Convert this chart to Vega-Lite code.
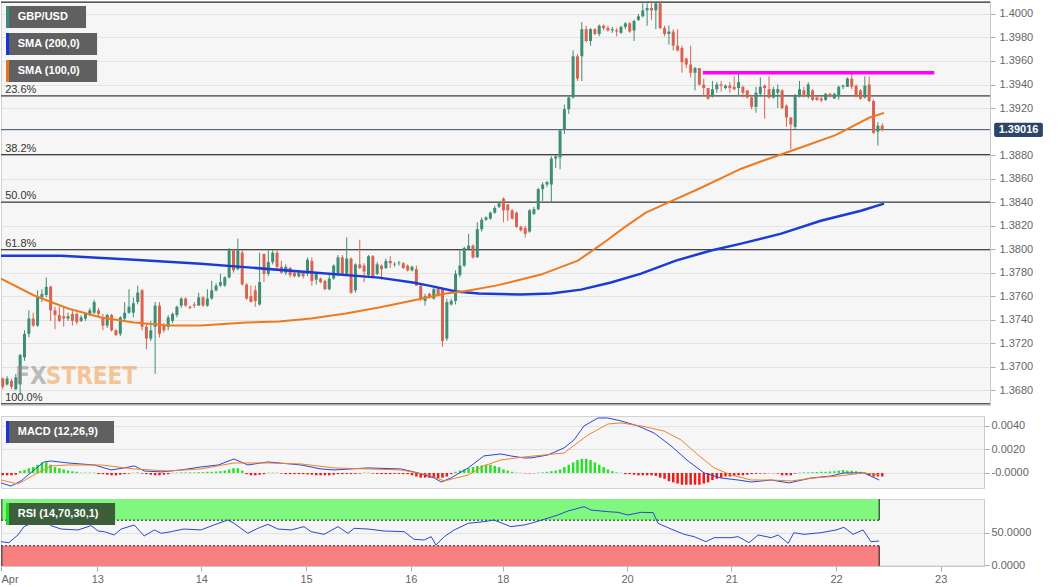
{
"$schema":"https://vega.github.io/schema/vega-lite/v6.json",
"padding":0,
"background":"#ffffff",
"spacing":9,
"config":{
 "view":{"fill":"#f6f6f6","stroke":"#d2d2d2"},
 "axis":{"labelFont":"Liberation Sans","labelFontSize":11,"labelColor":"#666666","tickColor":"#aaaaaa","domainColor":"#c6c9d2","gridColor":"#e3e3e3","tickSize":5,"labelOverlap":false,"tickCount":40},
 "scale":{"continuousPadding":0},
 "text":{"font":"Liberation Sans"}
},
"datasets":{
"candles":[
{"t":0,"o":1.3690,"h":1.3691,"l":1.3681,"c":1.3683,"m":-0.0002},
{"t":1,"o":1.3685,"h":1.3692,"l":1.3684,"c":1.3690,"m":-0.0002},
{"t":2,"o":1.3688,"h":1.3690,"l":1.3681,"c":1.3683,"m":-0.0002},
{"t":3,"o":1.3681,"h":1.3694,"l":1.3680,"c":1.3691,"m":-0.00015},
{"t":4,"o":1.3685,"h":1.3711,"l":1.3676,"c":1.3710,"m":0.00017},
{"t":5,"o":1.3708,"h":1.3731,"l":1.3705,"c":1.3728,"m":0.00026},
{"t":6,"o":1.3728,"h":1.3748,"l":1.3725,"c":1.3741,"m":0.0004},
{"t":7,"o":1.3741,"h":1.3746,"l":1.3734,"c":1.3735,"m":0.0005},
{"t":8,"o":1.3735,"h":1.3765,"l":1.3734,"c":1.3760,"m":0.0007},
{"t":9,"o":1.3759,"h":1.3766,"l":1.3755,"c":1.3762,"m":0.0009},
{"t":10,"o":1.3761,"h":1.3776,"l":1.3759,"c":1.3768,"m":0.0009},
{"t":11,"o":1.3768,"h":1.3769,"l":1.3739,"c":1.3748,"m":0.0007},
{"t":12,"o":1.3748,"h":1.3751,"l":1.3732,"c":1.3744,"m":0.0005},
{"t":13,"o":1.3744,"h":1.3751,"l":1.3738,"c":1.3739,"m":0.0004},
{"t":14,"o":1.3743,"h":1.3751,"l":1.3734,"c":1.3741,"m":0.0003},
{"t":15,"o":1.3741,"h":1.3746,"l":1.3739,"c":1.3743,"m":0.0002},
{"t":16,"o":1.3745,"h":1.3748,"l":1.3735,"c":1.3739,"m":0.00014},
{"t":17,"o":1.3745,"h":1.3746,"l":1.3736,"c":1.3738,"m":0.0001},
{"t":18,"o":1.3739,"h":1.3744,"l":1.3738,"c":1.3742,"m":0.00003},
{"t":19,"o":1.3741,"h":1.3746,"l":1.3739,"c":1.3745,"m":0.00003},
{"t":20,"o":1.3744,"h":1.3750,"l":1.3743,"c":1.3748,"m":0.00003},
{"t":21,"o":1.3746,"h":1.3757,"l":1.3745,"c":1.3755,"m":0.00003},
{"t":22,"o":1.3748,"h":1.3750,"l":1.3743,"c":1.3745,"m":-0.0001},
{"t":23,"o":1.3742,"h":1.3745,"l":1.3731,"c":1.3735,"m":-0.0001},
{"t":24,"o":1.3735,"h":1.3745,"l":1.3733,"c":1.3744,"m":-0.00015},
{"t":25,"o":1.3744,"h":1.3745,"l":1.3730,"c":1.3731,"m":-0.0002},
{"t":26,"o":1.3731,"h":1.3732,"l":1.3726,"c":1.3727,"m":-0.0002},
{"t":27,"o":1.3728,"h":1.3743,"l":1.3726,"c":1.3742,"m":-0.00015},
{"t":28,"o":1.3741,"h":1.3755,"l":1.3739,"c":1.3746,"m":-0.0001},
{"t":29,"o":1.3746,"h":1.3766,"l":1.3745,"c":1.3751,"m":-0.00005},
{"t":30,"o":1.3746,"h":1.3759,"l":1.3742,"c":1.3754,"m":0.00002},
{"t":31,"o":1.3755,"h":1.3769,"l":1.3753,"c":1.3763,"m":0.00005},
{"t":32,"o":1.3765,"h":1.3766,"l":1.3731,"c":1.3734,"m":-0.00005},
{"t":33,"o":1.3734,"h":1.3737,"l":1.3715,"c":1.3724,"m":-0.0001},
{"t":34,"o":1.3724,"h":1.3739,"l":1.3722,"c":1.3731,"m":-0.00015},
{"t":35,"o":1.3734,"h":1.3755,"l":1.3694,"c":1.3752,"m":-0.0002},
{"t":36,"o":1.3752,"h":1.3755,"l":1.3725,"c":1.3728,"m":-0.0002},
{"t":37,"o":1.3735,"h":1.3737,"l":1.3729,"c":1.3731,"m":-0.00015},
{"t":38,"o":1.3734,"h":1.3744,"l":1.3731,"c":1.3742,"m":-0.0001},
{"t":39,"o":1.3739,"h":1.3746,"l":1.3737,"c":1.3745,"m":0.00002},
{"t":40,"o":1.3744,"h":1.3752,"l":1.3742,"c":1.3751,"m":0.00003},
{"t":41,"o":1.3752,"h":1.3759,"l":1.3750,"c":1.3758,"m":0.00005},
{"t":42,"o":1.3758,"h":1.3759,"l":1.3751,"c":1.3752,"m":0.00005},
{"t":43,"o":1.3751,"h":1.3752,"l":1.3749,"c":1.3750,"m":0.00005},
{"t":44,"o":1.3753,"h":1.3755,"l":1.3750,"c":1.3752,"m":0.00005},
{"t":45,"o":1.3752,"h":1.3763,"l":1.3752,"c":1.3759,"m":0.00007},
{"t":46,"o":1.3759,"h":1.3760,"l":1.3751,"c":1.3752,"m":0.00007},
{"t":47,"o":1.3752,"h":1.3766,"l":1.3751,"c":1.3758,"m":0.0001},
{"t":48,"o":1.3758,"h":1.3773,"l":1.3757,"c":1.3765,"m":0.0001},
{"t":49,"o":1.3765,"h":1.3771,"l":1.3764,"c":1.3769,"m":0.00012},
{"t":50,"o":1.3769,"h":1.3779,"l":1.3768,"c":1.3772,"m":0.00015},
{"t":51,"o":1.3769,"h":1.3777,"l":1.3768,"c":1.3776,"m":0.0002},
{"t":52,"o":1.3776,"h":1.3801,"l":1.3775,"c":1.3800,"m":0.0003},
{"t":53,"o":1.3799,"h":1.3800,"l":1.3780,"c":1.3782,"m":0.0004},
{"t":54,"o":1.3783,"h":1.3809,"l":1.3782,"c":1.3799,"m":0.0004},
{"t":55,"o":1.3797,"h":1.3799,"l":1.3769,"c":1.3770,"m":0.0002},
{"t":56,"o":1.3770,"h":1.3771,"l":1.3757,"c":1.3758,"m":-0.0001},
{"t":57,"o":1.3760,"h":1.3769,"l":1.3755,"c":1.3755,"m":-0.0002},
{"t":58,"o":1.3765,"h":1.3769,"l":1.3751,"c":1.3756,"m":-0.0002},
{"t":59,"o":1.3753,"h":1.3797,"l":1.3752,"c":1.3772,"m":-0.00015},
{"t":60,"o":1.3796,"h":1.3796,"l":1.3772,"c":1.3779,"m":-0.0001},
{"t":61,"o":1.3779,"h":1.3799,"l":1.3777,"c":1.3789,"m":0.00003},
{"t":62,"o":1.3789,"h":1.3799,"l":1.3787,"c":1.3797,"m":0.00003},
{"t":63,"o":1.3797,"h":1.3799,"l":1.3783,"c":1.3785,"m":0.00003},
{"t":64,"o":1.3785,"h":1.3790,"l":1.3779,"c":1.3780,"m":-0.00005},
{"t":65,"o":1.3780,"h":1.3787,"l":1.3778,"c":1.3785,"m":-0.0001},
{"t":66,"o":1.3784,"h":1.3785,"l":1.3776,"c":1.3778,"m":-0.0001},
{"t":67,"o":1.3780,"h":1.3782,"l":1.3776,"c":1.3777,"m":-0.0001},
{"t":68,"o":1.3777,"h":1.3782,"l":1.3776,"c":1.3780,"m":-0.0001},
{"t":69,"o":1.3780,"h":1.3781,"l":1.3775,"c":1.3777,"m":-0.0001},
{"t":70,"o":1.3779,"h":1.3793,"l":1.3777,"c":1.3791,"m":-0.00012},
{"t":71,"o":1.3790,"h":1.3793,"l":1.3769,"c":1.3773,"m":-0.00015},
{"t":72,"o":1.3774,"h":1.3780,"l":1.3770,"c":1.3779,"m":-0.0002},
{"t":73,"o":1.3775,"h":1.3776,"l":1.3771,"c":1.3772,"m":-0.0002},
{"t":74,"o":1.3773,"h":1.3774,"l":1.3765,"c":1.3766,"m":-0.0002},
{"t":75,"o":1.3766,"h":1.3780,"l":1.3765,"c":1.3775,"m":-0.0002},
{"t":76,"o":1.3775,"h":1.3787,"l":1.3774,"c":1.3786,"m":-0.00015},
{"t":77,"o":1.3779,"h":1.3795,"l":1.3777,"c":1.3793,"m":-0.0001},
{"t":78,"o":1.3793,"h":1.3795,"l":1.3778,"c":1.3779,"m":-0.0001},
{"t":79,"o":1.3779,"h":1.3810,"l":1.3777,"c":1.3792,"m":-0.00008},
{"t":80,"o":1.3792,"h":1.3793,"l":1.3762,"c":1.3763,"m":-0.0001},
{"t":81,"o":1.3765,"h":1.3788,"l":1.3763,"c":1.3787,"m":-0.00008},
{"t":82,"o":1.3787,"h":1.3808,"l":1.3783,"c":1.3784,"m":-0.00005},
{"t":83,"o":1.3786,"h":1.3788,"l":1.3772,"c":1.3781,"m":0.00003},
{"t":84,"o":1.3778,"h":1.3795,"l":1.3776,"c":1.3794,"m":0.00003},
{"t":85,"o":1.3794,"h":1.3795,"l":1.3775,"c":1.3776,"m":-0.00005},
{"t":86,"o":1.3779,"h":1.3789,"l":1.3778,"c":1.3787,"m":-0.00008},
{"t":87,"o":1.3786,"h":1.3787,"l":1.3774,"c":1.3783,"m":-0.0001},
{"t":88,"o":1.3784,"h":1.3792,"l":1.3783,"c":1.3790,"m":-0.0001},
{"t":89,"o":1.3790,"h":1.3794,"l":1.3784,"c":1.3788,"m":-0.0001},
{"t":90,"o":1.3787,"h":1.3789,"l":1.3785,"c":1.37875,"m":-0.00008},
{"t":91,"o":1.3788,"h":1.3790,"l":1.3786,"c":1.37885,"m":-0.00008},
{"t":92,"o":1.3788,"h":1.3789,"l":1.3783,"c":1.3784,"m":-0.0001},
{"t":93,"o":1.3786,"h":1.3787,"l":1.3781,"c":1.3782,"m":-0.0001},
{"t":94,"o":1.3782,"h":1.3786,"l":1.3781,"c":1.3785,"m":-0.0002},
{"t":95,"o":1.3783,"h":1.3786,"l":1.3769,"c":1.3769,"m":-0.0003},
{"t":96,"o":1.3769,"h":1.3769,"l":1.3756,"c":1.3758,"m":-0.0004},
{"t":97,"o":1.3756,"h":1.3762,"l":1.3752,"c":1.3760,"m":-0.0004},
{"t":98,"o":1.3762,"h":1.3763,"l":1.3758,"c":1.3759,"m":-0.0004},
{"t":99,"o":1.3758,"h":1.3767,"l":1.3757,"c":1.3766,"m":-0.0004},
{"t":100,"o":1.3766,"h":1.3768,"l":1.3760,"c":1.3761,"m":-0.00045},
{"t":101,"o":1.3766,"h":1.3767,"l":1.3717,"c":1.3722,"m":-0.0004},
{"t":102,"o":1.3724,"h":1.3758,"l":1.3722,"c":1.3755,"m":-0.0003},
{"t":103,"o":1.3753,"h":1.3758,"l":1.3752,"c":1.3756,"m":-0.0001},
{"t":104,"o":1.3756,"h":1.3782,"l":1.3753,"c":1.3779,"m":0.0001},
{"t":105,"o":1.3778,"h":1.3799,"l":1.3776,"c":1.3786,"m":0.0002},
{"t":106,"o":1.3786,"h":1.3802,"l":1.3785,"c":1.3801,"m":0.0003},
{"t":107,"o":1.3800,"h":1.3813,"l":1.3799,"c":1.3803,"m":0.0004},
{"t":108,"o":1.3803,"h":1.3804,"l":1.3792,"c":1.3793,"m":0.0005},
{"t":109,"o":1.3793,"h":1.3823,"l":1.3793,"c":1.3817,"m":0.0006},
{"t":110,"o":1.3817,"h":1.3827,"l":1.3815,"c":1.3825,"m":0.00065},
{"t":111,"o":1.3825,"h":1.3828,"l":1.3824,"c":1.3827,"m":0.0007},
{"t":112,"o":1.3826,"h":1.3832,"l":1.3825,"c":1.3831,"m":0.0007},
{"t":113,"o":1.3831,"h":1.3837,"l":1.3830,"c":1.3835,"m":0.0006},
{"t":114,"o":1.3836,"h":1.3840,"l":1.3835,"c":1.3839,"m":0.0005},
{"t":115,"o":1.3843,"h":1.3844,"l":1.3823,"c":1.3833,"m":0.0003},
{"t":116,"o":1.3838,"h":1.3838,"l":1.3824,"c":1.3833,"m":0.0002},
{"t":117,"o":1.3833,"h":1.3834,"l":1.3825,"c":1.3826,"m":0.0001},
{"t":118,"o":1.3831,"h":1.3832,"l":1.3818,"c":1.3819,"m":0.00003},
{"t":119,"o":1.3819,"h":1.3820,"l":1.3815,"c":1.3816,"m":0.00002},
{"t":120,"o":1.3818,"h":1.3820,"l":1.3810,"c":1.3813,"m":-0.00003},
{"t":121,"o":1.3815,"h":1.3834,"l":1.3814,"c":1.3833,"m":-0.00003},
{"t":122,"o":1.3830,"h":1.3836,"l":1.3829,"c":1.3834,"m":-0.00002},
{"t":123,"o":1.3834,"h":1.3852,"l":1.3833,"c":1.3851,"m":0.00003},
{"t":124,"o":1.3851,"h":1.3857,"l":1.3841,"c":1.3855,"m":0.00005},
{"t":125,"o":1.3855,"h":1.3858,"l":1.3853,"c":1.3857,"m":0.0001},
{"t":126,"o":1.3855,"h":1.3879,"l":1.3840,"c":1.3877,"m":0.00015},
{"t":127,"o":1.3877,"h":1.3880,"l":1.3869,"c":1.3879,"m":0.0002},
{"t":128,"o":1.3878,"h":1.3902,"l":1.3868,"c":1.3901,"m":0.0003},
{"t":129,"o":1.3902,"h":1.3923,"l":1.3898,"c":1.3919,"m":0.0005},
{"t":130,"o":1.3919,"h":1.3930,"l":1.3915,"c":1.3929,"m":0.0007},
{"t":131,"o":1.3929,"h":1.3969,"l":1.3928,"c":1.3964,"m":0.0009},
{"t":132,"o":1.3964,"h":1.3966,"l":1.3943,"c":1.3945,"m":0.0011},
{"t":133,"o":1.3964,"h":1.3993,"l":1.3943,"c":1.3987,"m":0.0012},
{"t":134,"o":1.3987,"h":1.3990,"l":1.3976,"c":1.3977,"m":0.0012},
{"t":135,"o":1.3977,"h":1.3988,"l":1.3973,"c":1.3987,"m":0.0011},
{"t":136,"o":1.3987,"h":1.3988,"l":1.3982,"c":1.3983,"m":0.0009},
{"t":137,"o":1.3983,"h":1.3991,"l":1.3981,"c":1.3990,"m":0.0007},
{"t":138,"o":1.3990,"h":1.3991,"l":1.3986,"c":1.3988,"m":0.0005},
{"t":139,"o":1.3988,"h":1.3990,"l":1.3985,"c":1.3986,"m":0.0003},
{"t":140,"o":1.3986,"h":1.3989,"l":1.3984,"c":1.3987,"m":0.00015},
{"t":141,"o":1.3986,"h":1.3988,"l":1.3981,"c":1.3985,"m":0.00005},
{"t":142,"o":1.3984,"h":1.3990,"l":1.3983,"c":1.3989,"m":0.00002},
{"t":143,"o":1.3989,"h":1.3993,"l":1.3987,"c":1.3992,"m":-0.0001},
{"t":144,"o":1.3992,"h":1.3993,"l":1.3984,"c":1.3985,"m":-0.0001},
{"t":145,"o":1.3986,"h":1.3995,"l":1.3977,"c":1.3994,"m":-0.00015},
{"t":146,"o":1.3995,"h":1.4000,"l":1.3994,"c":1.3998,"m":-0.0002},
{"t":147,"o":1.3998,"h":1.4009,"l":1.3997,"c":1.4003,"m":-0.0002},
{"t":148,"o":1.4003,"h":1.4009,"l":1.3990,"c":1.4005,"m":-0.0002},
{"t":149,"o":1.4005,"h":1.4009,"l":1.3995,"c":1.4003,"m":-0.0002},
{"t":150,"o":1.4003,"h":1.4010,"l":1.3987,"c":1.4009,"m":-0.00025},
{"t":151,"o":1.4009,"h":1.4010,"l":1.3987,"c":1.3988,"m":-0.0004},
{"t":152,"o":1.3988,"h":1.3990,"l":1.3981,"c":1.3983,"m":-0.0005},
{"t":153,"o":1.3983,"h":1.3990,"l":1.3974,"c":1.3985,"m":-0.0007},
{"t":154,"o":1.3985,"h":1.3987,"l":1.3969,"c":1.3973,"m":-0.0008},
{"t":155,"o":1.3973,"h":1.3987,"l":1.3968,"c":1.3969,"m":-0.0009},
{"t":156,"o":1.3971,"h":1.3973,"l":1.3950,"c":1.3959,"m":-0.001},
{"t":157,"o":1.3962,"h":1.3963,"l":1.3954,"c":1.3957,"m":-0.001},
{"t":158,"o":1.3957,"h":1.3973,"l":1.3946,"c":1.3950,"m":-0.001},
{"t":159,"o":1.3950,"h":1.3955,"l":1.3935,"c":1.3954,"m":-0.001},
{"t":160,"o":1.3954,"h":1.3954,"l":1.3939,"c":1.3940,"m":-0.001},
{"t":161,"o":1.3940,"h":1.3945,"l":1.3930,"c":1.3937,"m":-0.0009},
{"t":162,"o":1.3937,"h":1.3937,"l":1.3927,"c":1.3928,"m":-0.0008},
{"t":163,"o":1.3930,"h":1.3943,"l":1.3929,"c":1.3936,"m":-0.0006},
{"t":164,"o":1.3936,"h":1.3942,"l":1.3933,"c":1.3940,"m":-0.0005},
{"t":165,"o":1.3940,"h":1.3943,"l":1.3934,"c":1.3939,"m":-0.0004},
{"t":166,"o":1.3937,"h":1.3940,"l":1.3936,"c":1.3939,"m":-0.0003},
{"t":167,"o":1.3939,"h":1.3942,"l":1.3933,"c":1.3937,"m":-0.0003},
{"t":168,"o":1.3938,"h":1.3947,"l":1.3935,"c":1.3936,"m":-0.00025},
{"t":169,"o":1.3937,"h":1.3949,"l":1.3930,"c":1.3942,"m":-0.0002},
{"t":170,"o":1.3938,"h":1.3939,"l":1.3929,"c":1.3933,"m":-0.0002},
{"t":171,"o":1.3935,"h":1.3935,"l":1.3928,"c":1.3929,"m":-0.00015},
{"t":172,"o":1.3929,"h":1.3930,"l":1.3919,"c":1.3921,"m":-0.0001},
{"t":173,"o":1.3921,"h":1.3938,"l":1.3916,"c":1.3933,"m":-0.00008},
{"t":174,"o":1.3932,"h":1.3946,"l":1.3930,"c":1.3938,"m":-0.00005},
{"t":175,"o":1.3939,"h":1.3940,"l":1.3911,"c":1.3937,"m":-0.00005},
{"t":176,"o":1.3936,"h":1.3947,"l":1.3928,"c":1.3929,"m":-0.00002},
{"t":177,"o":1.3929,"h":1.3938,"l":1.3928,"c":1.3936,"m":-0.00002},
{"t":178,"o":1.3933,"h":1.3940,"l":1.3920,"c":1.3936,"m":-0.00005},
{"t":179,"o":1.3935,"h":1.3936,"l":1.3919,"c":1.3920,"m":-0.0002},
{"t":180,"o":1.3922,"h":1.3923,"l":1.3904,"c":1.3912,"m":-0.0002},
{"t":181,"o":1.3912,"h":1.3912,"l":1.3885,"c":1.3906,"m":-0.0002},
{"t":182,"o":1.3904,"h":1.3932,"l":1.3902,"c":1.3930,"m":-0.00005},
{"t":183,"o":1.3930,"h":1.3943,"l":1.3929,"c":1.3936,"m":0.00003},
{"t":184,"o":1.3935,"h":1.3938,"l":1.3929,"c":1.3930,"m":0.00005},
{"t":185,"o":1.3930,"h":1.3942,"l":1.3928,"c":1.3940,"m":0.00005},
{"t":186,"o":1.3935,"h":1.3936,"l":1.3926,"c":1.3927,"m":0.00007},
{"t":187,"o":1.3929,"h":1.3930,"l":1.3926,"c":1.3927,"m":0.00008},
{"t":188,"o":1.3928,"h":1.3930,"l":1.3925,"c":1.39265,"m":0.0001},
{"t":189,"o":1.3927,"h":1.3933,"l":1.3926,"c":1.3932,"m":0.0001},
{"t":190,"o":1.3932,"h":1.3933,"l":1.3929,"c":1.3930,"m":0.00012},
{"t":191,"o":1.3928,"h":1.3933,"l":1.3928,"c":1.3932,"m":0.00015},
{"t":192,"o":1.3930,"h":1.3939,"l":1.3927,"c":1.3938,"m":0.0002},
{"t":193,"o":1.3938,"h":1.3940,"l":1.3936,"c":1.3939,"m":0.00025},
{"t":194,"o":1.3938,"h":1.3946,"l":1.3938,"c":1.3945,"m":0.0002},
{"t":195,"o":1.3945,"h":1.3949,"l":1.3936,"c":1.3938,"m":0.00018},
{"t":196,"o":1.3939,"h":1.3940,"l":1.3929,"c":1.3930,"m":0.00015},
{"t":197,"o":1.3935,"h":1.3936,"l":1.3927,"c":1.3928,"m":0.0001},
{"t":198,"o":1.3929,"h":1.3947,"l":1.3928,"c":1.3939,"m":0.00005},
{"t":199,"o":1.3940,"h":1.3947,"l":1.3925,"c":1.3926,"m":-0.0002},
{"t":200,"o":1.3926,"h":1.3927,"l":1.3898,"c":1.3899,"m":-0.0003},
{"t":201,"o":1.3900,"h":1.3908,"l":1.3888,"c":1.3905,"m":-0.0003},
{"t":202,"o":1.3905,"h":1.3907,"l":1.3900,"c":1.39016,"m":-0.0003}
],
"sma200":[
{"t":-0.4,"v":1.37945},{"t":13.4,"v":1.37945},{"t":30.2,"v":1.37911},{"t":45.5,"v":1.37877},{"t":57,"v":1.37843},{"t":71.3,"v":1.37801},{"t":86.4,"v":1.37758},{"t":94.2,"v":1.37716},{"t":97.9,"v":1.3769},{"t":104.1,"v":1.3764},{"t":109.4,"v":1.37623},{"t":119,"v":1.37614},{"t":125.9,"v":1.37623},{"t":132.8,"v":1.37656},{"t":139.7,"v":1.37716},{"t":146.6,"v":1.37792},{"t":154.6,"v":1.37903},{"t":162.7,"v":1.37988},{"t":169.6,"v":1.38047},{"t":178.8,"v":1.38132},{"t":187.9,"v":1.38242},{"t":197.1,"v":1.38327},{"t":202.4,"v":1.38387}
],
"sma100":[
{"t":-0.4,"v":1.3775},{"t":7.2,"v":1.37606},{"t":15,"v":1.37495},{"t":22.6,"v":1.37419},{"t":30.2,"v":1.37376},{"t":38,"v":1.37351},{"t":45.5,"v":1.37351},{"t":55.9,"v":1.37376},{"t":63.5,"v":1.37385},{"t":70.8,"v":1.3741},{"t":78.8,"v":1.37453},{"t":86.4,"v":1.37504},{"t":94.2,"v":1.37563},{"t":101.8,"v":1.37623},{"t":105.7,"v":1.3764},{"t":113.3,"v":1.3769},{"t":123.6,"v":1.37784},{"t":132.1,"v":1.37903},{"t":137.4,"v":1.38038},{"t":142.7,"v":1.38183},{"t":147.7,"v":1.3831},{"t":152.8,"v":1.38395},{"t":160.4,"v":1.38522},{"t":169.6,"v":1.38684},{"t":174.6,"v":1.38752},{"t":183.8,"v":1.38871},{"t":191.4,"v":1.38972},{"t":199,"v":1.39117},{"t":202.4,"v":1.39159}
],
"macd":[
{"t":-0.4,"v":-0.00085},{"t":1.9,"v":-0.00111},{"t":4.2,"v":-0.00068},{"t":7.2,"v":0.00026},{"t":9.5,"v":0.00094},{"t":11.1,"v":0.00102},{"t":15,"v":0.00085},{"t":21,"v":0.00068},{"t":24.9,"v":0.00026},{"t":27.9,"v":0.00043},{"t":30.2,"v":0.0006},{"t":32.5,"v":0.00017},{"t":36.4,"v":0.00009},{"t":41,"v":0.00026},{"t":45.5,"v":0.00051},{"t":49.5,"v":0.00068},{"t":53.1,"v":0.00119},{"t":56.3,"v":0.00068},{"t":60.9,"v":0.00094},{"t":68.5,"v":0.00068},{"t":73.1,"v":0.00034},{"t":76.1,"v":0.00026},{"t":80,"v":0.00034},{"t":83.9,"v":0.00043},{"t":91.5,"v":0.00034},{"t":95.4,"v":0},{"t":99.1,"v":-0.00043},{"t":100.7,"v":-0.00077},{"t":102.9,"v":-0.00043},{"t":106.9,"v":0.00043},{"t":110.5,"v":0.00145},{"t":114.4,"v":0.00162},{"t":116.7,"v":0.00145},{"t":119.7,"v":0.00128},{"t":121.3,"v":0.00128},{"t":125.2,"v":0.00153},{"t":128.9,"v":0.00213},{"t":131.2,"v":0.00281},{"t":133.5,"v":0.004},{"t":136.7,"v":0.00468},{"t":139,"v":0.00468},{"t":142,"v":0.00443},{"t":145.9,"v":0.004},{"t":149.6,"v":0.0034},{"t":153.5,"v":0.0023},{"t":157.4,"v":0.00102},{"t":161.1,"v":0},{"t":165,"v":-0.00043},{"t":168.9,"v":-0.0006},{"t":171.9,"v":-0.00077},{"t":176.5,"v":-0.0006},{"t":180.6,"v":-0.00085},{"t":185.6,"v":-0.00043},{"t":190.2,"v":-0.00026},{"t":193.2,"v":0},{"t":197.8,"v":0},{"t":201.3,"v":-0.0006}
],
"signal":[
{"t":-0.4,"v":-0.0006},{"t":3.5,"v":-0.00094},{"t":7.2,"v":-0.00017},{"t":11.1,"v":0.0006},{"t":15,"v":0.00068},{"t":22.6,"v":0.00068},{"t":30.2,"v":0.00034},{"t":38,"v":0.00017},{"t":45.5,"v":0.00034},{"t":53.1,"v":0.00085},{"t":60.9,"v":0.00085},{"t":68.5,"v":0.00077},{"t":76.1,"v":0.00043},{"t":83.9,"v":0.00034},{"t":91.5,"v":0.00026},{"t":97.7,"v":-0.00017},{"t":101.4,"v":-0.00068},{"t":106.9,"v":-0.00017},{"t":110.5,"v":0.0006},{"t":114.4,"v":0.00111},{"t":119.7,"v":0.00136},{"t":128.9,"v":0.0017},{"t":134.4,"v":0.00323},{"t":139,"v":0.00417},{"t":142,"v":0.00426},{"t":146.6,"v":0.004},{"t":151.9,"v":0.00357},{"t":155.8,"v":0.00281},{"t":159.7,"v":0.00153},{"t":163.4,"v":0.00043},{"t":167.3,"v":-0.00017},{"t":171.9,"v":-0.0006},{"t":176.5,"v":-0.0006},{"t":181.1,"v":-0.00068},{"t":186.3,"v":-0.00043},{"t":191.9,"v":-0.00026},{"t":197.8,"v":0},{"t":201.3,"v":-0.00017}
],
"rsi":[
{"t":-0.4,"v":36.4},{"t":1.4,"v":34.9},{"t":3.5,"v":46.9},{"t":4.9,"v":59.9},{"t":6.5,"v":65.1},{"t":8.1,"v":67.7},{"t":9.5,"v":70.3},{"t":11.1,"v":61.5},{"t":13.4,"v":56.2},{"t":17.3,"v":54.7},{"t":20.3,"v":61.5},{"t":21.9,"v":53.1},{"t":23.3,"v":52.1},{"t":25.6,"v":46.9},{"t":27.2,"v":56.2},{"t":30.2,"v":62.5},{"t":32.5,"v":45.3},{"t":34.8,"v":54.7},{"t":36.4,"v":49.5},{"t":38.7,"v":52.1},{"t":41.6,"v":56.2},{"t":45.5,"v":54.7},{"t":48.5,"v":62.5},{"t":51.7,"v":70.3},{"t":53.1,"v":65.1},{"t":56.3,"v":49.5},{"t":58.6,"v":57.3},{"t":60.9,"v":63.5},{"t":63.2,"v":56.2},{"t":66.2,"v":54.7},{"t":69.2,"v":59.9},{"t":70.8,"v":52.1},{"t":73.8,"v":47.9},{"t":77,"v":59.9},{"t":79.3,"v":49.5},{"t":80.7,"v":57.3},{"t":83.9,"v":56.2},{"t":87.6,"v":53.1},{"t":92.2,"v":52.1},{"t":94.5,"v":40.1},{"t":96.8,"v":39.1},{"t":98.4,"v":44.3},{"t":99.5,"v":31.2},{"t":101.4,"v":44.3},{"t":103.7,"v":54.7},{"t":106.9,"v":65.1},{"t":110.5,"v":67.7},{"t":112.8,"v":70.3},{"t":116.7,"v":59.9},{"t":119.7,"v":62.5},{"t":121.3,"v":65.1},{"t":124.3,"v":71.3},{"t":127.5,"v":78.1},{"t":129.8,"v":84.4},{"t":132.1,"v":88.5},{"t":133.5,"v":91.1},{"t":135.1,"v":85.9},{"t":139,"v":83.3},{"t":141.3,"v":82.3},{"t":143.6,"v":78.1},{"t":146.6,"v":82.3},{"t":149.4,"v":81.8},{"t":150.5,"v":65.1},{"t":153.5,"v":56.2},{"t":156.5,"v":47.9},{"t":158.8,"v":44.3},{"t":161.5,"v":36.4},{"t":163.4,"v":42.7},{"t":167.3,"v":42.7},{"t":168.9,"v":44.3},{"t":171.4,"v":34.9},{"t":173.5,"v":46.9},{"t":176.5,"v":42.7},{"t":178.1,"v":46.9},{"t":180.4,"v":33.9},{"t":181.7,"v":50.5},{"t":184,"v":47.9},{"t":187.9,"v":50.5},{"t":191.4,"v":54.7},{"t":193.2,"v":58.9},{"t":195.3,"v":47.9},{"t":197.6,"v":54.7},{"t":199.4,"v":36.4},{"t":201.3,"v":37.5}
],
"fib":[
{"y":1.401,"lab":""},{"y":1.39303,"lab":"23.6%"},{"y":1.38803,"lab":"38.2%"},{"y":1.384,"lab":"50.0%"},{"y":1.37995,"lab":"61.8%"},{"y":1.36685,"lab":"100.0%"}
],
"one":[{}]
},
"vconcat":[
{
 "width":989,"height":404,
 "layer":[
  {"data":{"name":"fib"},"mark":{"type":"rule","color":"#111111","strokeWidth":1,"clip":true},
   "encoding":{"y":{"field":"y","type":"quantitative","scale":{"domain":[1.36675,1.4011],"nice":false,"zero":false},
     "axis":{"orient":"right","title":null,"values":[1.368,1.37,1.372,1.374,1.376,1.378,1.38,1.382,1.384,1.386,1.388,1.392,1.394,1.396,1.398,1.4],"tickCount":40,"format":".4f","grid":true,"labelPadding":4,"labelOverlap":false}}}},
  {"data":{"name":"fib"},"transform":[{"filter":"datum.lab != ''"}],"mark":{"type":"text","align":"left","baseline":"bottom","dy":-1,"fontSize":11,"color":"#333333"},
   "encoding":{"x":{"datum":0.55,"type":"quantitative","scale":{"domain":[-0.4,226.75],"nice":false,"zero":false,"padding":0},"axis":null},
     "y":{"field":"y","type":"quantitative"},"text":{"field":"lab"}}},
  {"data":{"name":"one"},"mark":{"type":"rule","color":"#3a4e66","strokeWidth":1,"clip":true},
   "encoding":{"y":{"datum":1.39016,"type":"quantitative"}}},
  {"data":{"name":"candles"},"mark":{"type":"rule","strokeWidth":1},
   "encoding":{"x":{"field":"t","type":"quantitative","scale":{"domain":[-0.4,226.75],"nice":false,"zero":false,"padding":0},"axis":null},
     "y":{"field":"l","type":"quantitative"},"y2":{"field":"h"},
     "color":{"condition":{"test":"datum.c >= datum.o","value":"#3e8e74"},"value":"#d9634e"}}},
  {"data":{"name":"candles"},"mark":{"type":"bar","width":3},
   "encoding":{"x":{"field":"t","type":"quantitative","scale":{"domain":[-0.4,226.75],"nice":false,"zero":false,"padding":0},"axis":null},
     "y":{"field":"o","type":"quantitative","scale":{"domain":[1.36675,1.4011],"nice":false,"zero":false}},"y2":{"field":"c"},
     "color":{"condition":{"test":"datum.c >= datum.o","value":"#3e8e74"},"value":"#d9634e"}}},
  {"data":{"name":"sma200"},"mark":{"type":"line","color":"#1b3bd6","strokeWidth":2.5,"clip":true},
   "encoding":{"x":{"field":"t","type":"quantitative","axis":null},"y":{"field":"v","type":"quantitative"}}},
  {"data":{"name":"sma100"},"mark":{"type":"line","color":"#ee7a1f","strokeWidth":2,"clip":true},
   "encoding":{"x":{"field":"t","type":"quantitative","axis":null},"y":{"field":"v","type":"quantitative"}}},
  {"data":{"name":"one"},"mark":{"type":"rule","color":"#ff00ff","strokeWidth":3.5},
   "encoding":{"x":{"datum":160.8,"type":"quantitative","axis":null},"x2":{"datum":213.95},"y":{"datum":1.395,"type":"quantitative"}}},
  {"data":{"name":"one"},"mark":{"type":"text","align":"left","baseline":"alphabetic","fontSize":24,"fontWeight":"bold","font":"DejaVu Sans Condensed","color":"#8c8c8c","opacity":0.55,"text":"FX"},
   "encoding":{"x":{"datum":2.9,"type":"quantitative","axis":null},"y":{"datum":1.36854,"type":"quantitative"}}},
  {"data":{"name":"one"},"mark":{"type":"text","align":"left","baseline":"alphabetic","fontSize":24,"fontWeight":"bold","font":"DejaVu Sans Condensed","color":"#f2a35a","opacity":0.6,"text":"STREET"},
   "encoding":{"x":{"datum":9.9,"type":"quantitative","axis":null},"y":{"datum":1.36854,"type":"quantitative"}}},
  {"data":{"name":"one"},"mark":{"type":"rect","color":"#606060"},
   "encoding":{"x":{"datum":0.76,"type":"quantitative","axis":null},"x2":{"datum":19.13},"y":{"datum":1.40067,"type":"quantitative"},"y2":{"datum":1.3988}}},
  {"data":{"name":"one"},"mark":{"type":"rect","color":"#3a9080"},
   "encoding":{"x":{"datum":0.76,"type":"quantitative","axis":null},"x2":{"datum":1.45},"y":{"datum":1.40067,"type":"quantitative"},"y2":{"datum":1.3988}}},
  {"data":{"name":"one"},"mark":{"type":"text","align":"left","baseline":"middle","fontSize":11,"fontWeight":"bold","color":"#ffffff","text":"GBP/USD"},
   "encoding":{"x":{"datum":3.45,"type":"quantitative","axis":null},"y":{"datum":1.39974,"type":"quantitative"}}},
  {"data":{"name":"one"},"mark":{"type":"rect","color":"#606060"},
   "encoding":{"x":{"datum":0.76,"type":"quantitative","axis":null},"x2":{"datum":21.66},"y":{"datum":1.39838,"type":"quantitative"},"y2":{"datum":1.39651}}},
  {"data":{"name":"one"},"mark":{"type":"rect","color":"#1733dd"},
   "encoding":{"x":{"datum":0.76,"type":"quantitative","axis":null},"x2":{"datum":1.45},"y":{"datum":1.39838,"type":"quantitative"},"y2":{"datum":1.39651}}},
  {"data":{"name":"one"},"mark":{"type":"text","align":"left","baseline":"middle","fontSize":11,"fontWeight":"bold","color":"#ffffff","text":"SMA (200,0)"},
   "encoding":{"x":{"datum":3.45,"type":"quantitative","axis":null},"y":{"datum":1.39744,"type":"quantitative"}}},
  {"data":{"name":"one"},"mark":{"type":"rect","color":"#606060"},
   "encoding":{"x":{"datum":0.76,"type":"quantitative","axis":null},"x2":{"datum":21.66},"y":{"datum":1.39608,"type":"quantitative"},"y2":{"datum":1.39421}}},
  {"data":{"name":"one"},"mark":{"type":"rect","color":"#e8761e"},
   "encoding":{"x":{"datum":0.76,"type":"quantitative","axis":null},"x2":{"datum":1.45},"y":{"datum":1.39608,"type":"quantitative"},"y2":{"datum":1.39421}}},
  {"data":{"name":"one"},"mark":{"type":"text","align":"left","baseline":"middle","fontSize":11,"fontWeight":"bold","color":"#ffffff","text":"SMA (100,0)"},
   "encoding":{"x":{"datum":3.45,"type":"quantitative","axis":null},"y":{"datum":1.39515,"type":"quantitative"}}},
  {"data":{"name":"one"},"mark":{"type":"rect","color":"#2d4566","cornerRadius":2},
   "encoding":{"x":{"datum":227.7,"type":"quantitative","axis":null},"x2":{"datum":238.9},"y":{"datum":1.39075,"type":"quantitative"},"y2":{"datum":1.38954}}},
  {"data":{"name":"one"},"mark":{"type":"text","align":"center","baseline":"middle","fontSize":11,"fontWeight":"bold","color":"#ffffff","text":"1.39016"},
   "encoding":{"x":{"datum":233.3,"type":"quantitative","axis":null},"y":{"datum":1.39016,"type":"quantitative"}}}
 ]
},
{
 "width":983,"height":72,
 "layer":[
  {"data":{"name":"candles"},"mark":{"type":"bar","width":2.5},
   "encoding":{"x":{"field":"t","type":"quantitative","scale":{"domain":[-0.4,225.37],"nice":false,"zero":false,"padding":0},"axis":null},
     "y":{"field":"m","type":"quantitative","scale":{"domain":[-0.00128,0.00485],"nice":false,"zero":false},
       "axis":{"orient":"right","title":null,"values":[0.004,0.002,0],"tickCount":40,"labelExpr":"datum.value == 0 ? '-0.0000' : format(datum.value, '.4f')","grid":true,"labelPadding":2,"labelOverlap":false}},
     "y2":{"datum":0},
     "color":{"condition":{"test":"datum.m >= 0","value":"#27e027"},"value":"#ee1b1b"}}},
  {"data":{"name":"macd"},"mark":{"type":"line","color":"#2a46d8","strokeWidth":1,"clip":true},
   "encoding":{"x":{"field":"t","type":"quantitative","axis":null},"y":{"field":"v","type":"quantitative"}}},
  {"data":{"name":"signal"},"mark":{"type":"line","color":"#f0822a","strokeWidth":1,"clip":true},
   "encoding":{"x":{"field":"t","type":"quantitative","axis":null},"y":{"field":"v","type":"quantitative"}}},
  {"data":{"name":"one"},"mark":{"type":"rect","color":"#606060"},
   "encoding":{"x":{"datum":0.76,"type":"quantitative","axis":null},"x2":{"datum":25.56},"y":{"datum":0.00442,"type":"quantitative"},"y2":{"datum":0.00255}}},
  {"data":{"name":"one"},"mark":{"type":"rect","color":"#1733dd"},
   "encoding":{"x":{"datum":0.76,"type":"quantitative","axis":null},"x2":{"datum":1.45},"y":{"datum":0.00442,"type":"quantitative"},"y2":{"datum":0.00255}}},
  {"data":{"name":"one"},"mark":{"type":"text","align":"left","baseline":"middle","fontSize":11,"fontWeight":"bold","color":"#ffffff","text":"MACD (12,26,9)"},
   "encoding":{"x":{"datum":3.45,"type":"quantitative","axis":null},"y":{"datum":0.00349,"type":"quantitative"}}}
 ]
},
{
 "width":983,"height":67,
 "layer":[
  {"data":{"name":"one"},"mark":{"type":"rect","color":"#80f880"},
   "encoding":{"x":{"datum":-0.4,"type":"quantitative","scale":{"domain":[-0.4,225.37],"nice":false,"zero":false,"padding":0},
       "axis":{"orient":"bottom","title":null,"values":[-0.4,21.73,45.61,69.66,93.71,114.84,143.39,167.34,191.39,215.43],"tickCount":40,"labelFlush":true,"grid":false,"labelPadding":2,"labelOverlap":false,
         "labelExpr":"datum.value < 5 ? 'Apr' : datum.value < 30 ? '13' : datum.value < 55 ? '14' : datum.value < 80 ? '15' : datum.value < 100 ? '16' : datum.value < 130 ? '18' : datum.value < 155 ? '20' : datum.value < 180 ? '21' : datum.value < 200 ? '22' : '23'"}},
     "x2":{"datum":201.3},
     "y":{"datum":70,"type":"quantitative","scale":{"domain":[-1.56,103.1],"nice":false,"zero":false},
       "axis":{"orient":"right","title":null,"values":[50,0],"tickCount":40,"format":".4f","grid":true,"labelPadding":2,"labelOverlap":false}},
     "y2":{"datum":103.1}}},
  {"data":{"name":"one"},"mark":{"type":"rect","color":"#f88080","clip":true},
   "encoding":{"x":{"datum":-0.4,"type":"quantitative"},"x2":{"datum":201.3},"y":{"datum":-1.56,"type":"quantitative"},"y2":{"datum":30}}},
  {"data":{"values":[{"lv":70},{"lv":30}]},"mark":{"type":"rule","color":"#222222","strokeWidth":1,"strokeDash":[2,2],"clip":true},
   "encoding":{"x":{"datum":-0.4,"type":"quantitative"},"x2":{"datum":201.3},"y":{"field":"lv","type":"quantitative"}}},
  {"data":{"values":[{"a":70,"b":103.1},{"a":-1.56,"b":30}]},"mark":{"type":"rule","color":"#111111","strokeWidth":1,"clip":true},
   "encoding":{"x":{"datum":201.3,"type":"quantitative"},"y":{"field":"a","type":"quantitative"},"y2":{"field":"b"}}},
  {"data":{"values":[{"a":70,"b":103.1},{"a":-1.56,"b":30}]},"mark":{"type":"rule","color":"#333333","strokeWidth":1,"clip":true},
   "encoding":{"x":{"datum":-0.2,"type":"quantitative"},"y":{"field":"a","type":"quantitative"},"y2":{"field":"b"}}},
  {"data":{"name":"rsi"},"mark":{"type":"line","color":"#2a47d6","strokeWidth":1,"clip":true},
   "encoding":{"x":{"field":"t","type":"quantitative"},"y":{"field":"v","type":"quantitative"}}},
  {"data":{"name":"one"},"mark":{"type":"rect","color":"#3b5e3b"},
   "encoding":{"x":{"datum":0.76,"type":"quantitative"},"x2":{"datum":25.8},"y":{"datum":96.85,"type":"quantitative"},"y2":{"datum":62.5}}},
  {"data":{"name":"one"},"mark":{"type":"rect","color":"#22dd22"},
   "encoding":{"x":{"datum":0.76,"type":"quantitative"},"x2":{"datum":1.45},"y":{"datum":96.85,"type":"quantitative"},"y2":{"datum":62.5}}},
  {"data":{"name":"one"},"mark":{"type":"text","align":"left","baseline":"middle","fontSize":11,"fontWeight":"bold","color":"#ffffff","text":"RSI (14,70,30,1)"},
   "encoding":{"x":{"datum":3.45,"type":"quantitative"},"y":{"datum":79.7,"type":"quantitative"}}}
 ]
}
]
}
